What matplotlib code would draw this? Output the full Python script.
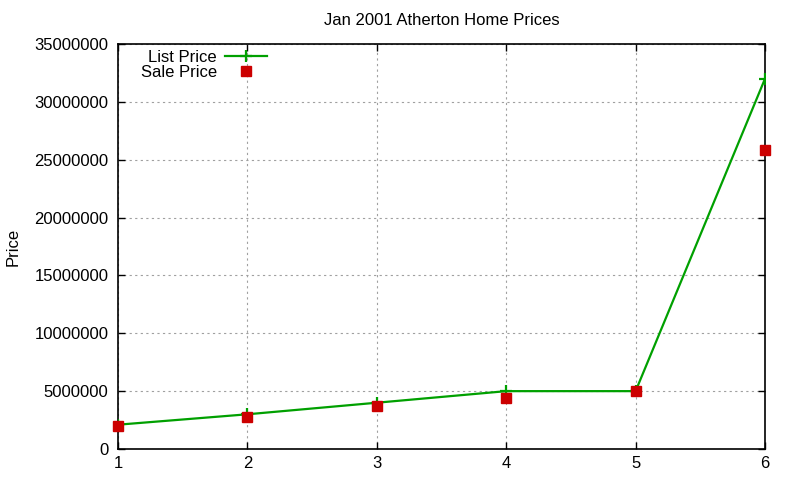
import matplotlib
matplotlib.use("Agg")
import matplotlib.pyplot as plt
import matplotlib.ticker as mticker

plt.rcParams["font.family"] = ["Liberation Sans", "DejaVu Sans"]

# data
house = [1, 2, 3, 4, 5, 6]
list_price = [2100000, 3000000, 4000000, 5000000, 5000000, 32000000]
sale_price = [2000000, 2800000, 3750000, 4450000, 5000000, 25800000]

fig = plt.figure(figsize=(8, 4.8), dpi=100)
ax = fig.add_axes([118 / 800, 1 - 449 / 480, (765 - 118) / 800, (449 - 44) / 480])

green = "#00A000"
red = "#CC0000"
ax.plot(house, list_price, color=green, linewidth=1.6, marker="+",
        markersize=9, markeredgewidth=1.6, label="List Price", zorder=3)
ax.plot(house, sale_price, linestyle="none", color=red, marker="s",
        markersize=6.5, label="Sale Price", zorder=4, clip_on=False)

ax.set_xlim(1, 6)
ax.set_ylim(0, 35000000)
ax.xaxis.set_major_locator(mticker.MultipleLocator(1))
ax.yaxis.set_major_locator(mticker.MultipleLocator(5000000))
ax.yaxis.set_major_formatter(mticker.FuncFormatter(lambda v, _: f"{v:.0f}"))
ax.tick_params(direction="in", top=True, right=True, labelsize=12, length=5, width=1)
ax.tick_params(axis="y", pad=7)
ax.tick_params(axis="x", pad=5)
ax.grid(True, color="#A0A0A0", linestyle=(0, (2, 3)), linewidth=0.8)
for s in ax.spines.values():
    s.set_linewidth(1.2)

ax.set_title("Jan 2001 Atherton Home Prices", fontsize=12, pad=14)
ax.set_ylabel("Price", fontsize=12)
ax.yaxis.set_label_coords(-0.150, 0.5)

leg = ax.legend(loc="upper right", bbox_to_anchor=(0.2303, 0.985), frameon=False,
                markerfirst=False, fontsize=12, handlelength=2.5, numpoints=1,
                handletextpad=0.5, labelspacing=0.0, borderaxespad=0, borderpad=0)

fig.savefig("out.png", dpi=100)
